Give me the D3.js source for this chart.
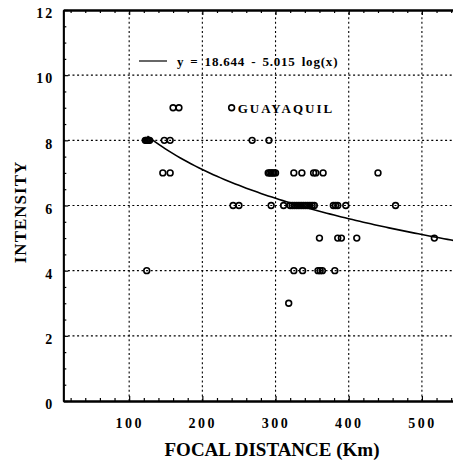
<!DOCTYPE html>
<html>
<head>
<meta charset="utf-8">
<script src="https://cdn.jsdelivr.net/npm/d3@7"></script>
<style>
  html, body { margin: 0; padding: 0; background: #fff; }
  svg { display: block; font-family: "Liberation Serif", "DejaVu Serif", serif; font-weight: bold; }
  .tick text { font-family: "Liberation Serif", serif; font-weight: bold; fill: #000; }
</style>
</head>
<body>
<svg id="chart" width="453" height="464"></svg>
<script>
// intensity vs focal distance
const dist9 = [160, 168];
const dist8 = [122, 123.5, 125, 126.5, 128, 148, 156, 268, 291];
const dist7 = [146, 156, 290, 292, 294, 296, 298, 300, 325, 336, 352, 355, 365, 440];
const dist6 = [242, 250, 294, 311, 320, 323, 326, 329, 332, 335, 338, 341, 344, 347, 350, 353, 379, 382, 385, 396, 464];
const dist5 = [360, 385, 390, 411, 517];
const dist4 = [124, 325, 337, 358, 361, 364, 381];
const dist3 = [318];
const guayaquil = { dist: 240, intensity: 9, label: "GUAYAQUIL" };

// fit y = a - b log10(x)
const fitA = 18.644, fitB = 5.015;
const fitRange = [125, 560];

const xTicks = [100, 200, 300, 400, 500];
const yTicks = [0, 2, 4, 6, 8, 10, 12];

const svg = d3.select("#chart");
const x = d3.scaleLinear().domain([10, 550]).range([63.3, 458.5]);
const y = d3.scaleLinear().domain([0, 12]).range([401, 10]);

const [x0, x1] = x.range();
const [y0, y1] = y.range();

const points = [
    ...dist9.map(d => [d, 9]),
    ...dist8.map(d => [d, 8]),
    ...dist7.map(d => [d, 7]),
    ...dist6.map(d => [d, 6]),
    ...dist5.map(d => [d, 5]),
    ...dist4.map(d => [d, 4]),
    ...dist3.map(d => [d, 3]),
    [guayaquil.dist, guayaquil.intensity]
];

// dotted grid
const grid = svg.append("g")
    .attr("stroke", "#000")
    .attr("stroke-width", 1.1)
    .attr("stroke-dasharray", "2,2.6");
grid.selectAll(".gx").data(xTicks).join("line")
    .attr("x1", d => x(d)).attr("x2", d => x(d))
    .attr("y1", y0).attr("y2", y1);
grid.selectAll(".gy").data(yTicks.filter(d => d > 0 && d < 12)).join("line")
    .attr("x1", x0).attr("x2", x1)
    .attr("y1", d => y(d)).attr("y2", d => y(d));

function styleAxis(g) {
    g.select(".domain").attr("stroke-width", 1.8);
    g.selectAll(".tick line").attr("stroke-width", 1.2);
}

// minor ticks, inward
const xMinor = d3.range(20, 551, 20).filter(d => d % 100 !== 0);
const yMinor = d3.range(0.5, 12, 0.5).filter(d => d % 2 !== 0);

svg.append("g").attr("transform", `translate(0,${y0})`)
    .call(d3.axisBottom(x).tickValues(xMinor).tickSize(-3).tickSizeOuter(0).tickFormat(""))
    .call(styleAxis);
svg.append("g").attr("transform", `translate(0,${y1})`)
    .call(d3.axisTop(x).tickValues(xMinor).tickSize(-3).tickSizeOuter(0).tickFormat(""))
    .call(styleAxis);
svg.append("g").attr("transform", `translate(${x0},0)`)
    .call(d3.axisLeft(y).tickValues(yMinor).tickSize(-3).tickSizeOuter(0).tickFormat(""))
    .call(styleAxis);

// major ticks + labels
const xAxis = svg.append("g").attr("transform", `translate(0,${y0})`)
    .call(d3.axisBottom(x).tickValues(xTicks).tickSize(-5).tickSizeOuter(0).tickPadding(17))
    .call(styleAxis);
xAxis.selectAll(".tick text")
    .style("font-size", "14px").style("letter-spacing", "2.5px");
svg.append("g").attr("transform", `translate(0,${y1})`)
    .call(d3.axisTop(x).tickValues(xTicks).tickSize(-5).tickSizeOuter(0).tickFormat(""))
    .call(styleAxis);

const yAxis = svg.append("g").attr("transform", `translate(${x0},0)`)
    .call(d3.axisLeft(y).tickValues(yTicks).tickSize(-5).tickSizeOuter(0).tickPadding(9))
    .call(styleAxis);
yAxis.selectAll(".tick text")
    .style("font-size", "14px").style("letter-spacing", "2px").attr("dy", "0.55em");

// fitted curve
const curve = d3.range(fitRange[0], fitRange[1] + 1, 5).map(d => [d, fitA - fitB * Math.log10(d)]);
svg.append("path")
    .datum(curve)
    .attr("fill", "none")
    .attr("stroke", "#000")
    .attr("stroke-width", 1.6)
    .attr("d", d3.line().x(d => x(d[0])).y(d => y(d[1])));

// observations
svg.append("g").selectAll("circle").data(points).join("circle")
    .attr("cx", d => x(d[0]))
    .attr("cy", d => y(d[1]))
    .attr("r", 2.9)
    .attr("fill", "none")
    .attr("stroke", "#000")
    .attr("stroke-width", 1.6);

svg.append("text")
    .attr("x", x(guayaquil.dist) + 6)
    .attr("y", y(guayaquil.intensity) + 5)
    .attr("font-size", 13)
    .attr("letter-spacing", 2)
    .text(guayaquil.label);

// legend
svg.append("line")
    .attr("x1", 139).attr("x2", 167)
    .attr("y1", 61).attr("y2", 61)
    .attr("stroke", "#000").attr("stroke-width", 1.2);
svg.append("text")
    .attr("x", 177).attr("y", 66)
    .attr("font-size", 13)
    .attr("letter-spacing", 0.8)
    .attr("word-spacing", 2)
    .text(`y = ${fitA} - ${fitB} log(x)`);

// axis titles
svg.append("text")
    .attr("x", 272).attr("y", 456)
    .attr("text-anchor", "middle")
    .attr("font-size", 19)
    .text("FOCAL DISTANCE (Km)");
svg.append("text")
    .attr("transform", "translate(26,212) rotate(-90)")
    .attr("text-anchor", "middle")
    .attr("font-size", 17)
    .attr("letter-spacing", 1)
    .text("INTENSITY");
</script>
</body>
</html>
